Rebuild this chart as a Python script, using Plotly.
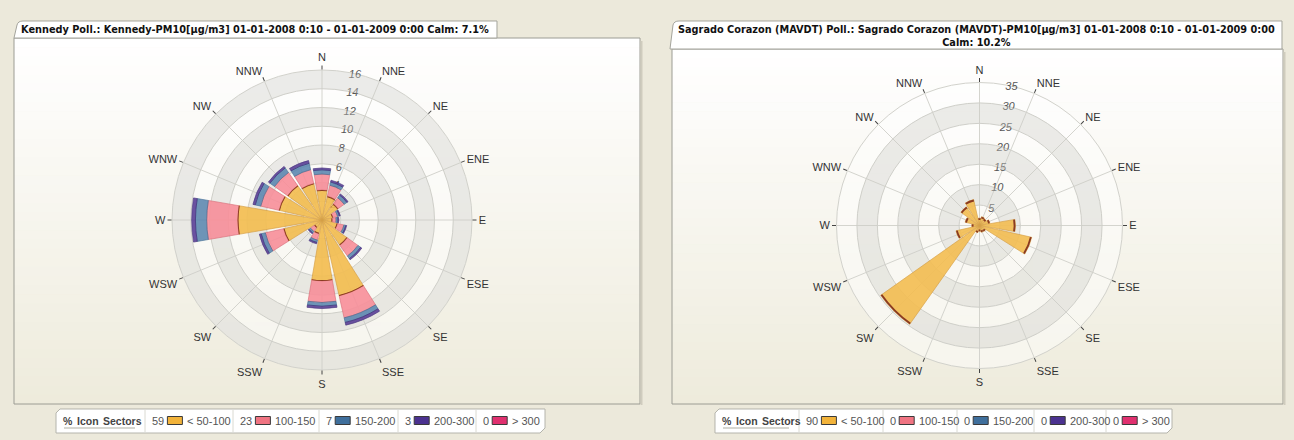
import plotly.graph_objects as go

W, H = 1294, 440

# ---- data -------------------------------------------------------------
directions = ["N", "NNE", "NE", "ENE", "E", "ESE", "SE", "SSE",
              "S", "SSW", "SW", "WSW", "W", "WNW", "NW", "NNW"]
classes = ["< 50-100", "100-150", "150-200", "200-300", "> 300"]

# Kennedy: % of hours per wind sector and PM10 class
kennedy_50_100 = [3.2, 2.6, 2.1, 1.2, 1.1, 1.7, 3.3, 8.3, 6.5, 1.5, 1.0, 4.2, 9.0, 4.7, 4.5, 4.0]
kennedy_100_150 = [1.7, 1.2, 0.8, 0.5, 0.4, 0.7, 1.4, 2.4, 2.3, 0.7, 0.5, 2.0, 3.3, 2.0, 1.7, 1.5]
kennedy_150_200 = [0.45, 0.35, 0.35, 0.2, 0.2, 0.2, 0.35, 0.5, 0.4, 0.25, 0.2, 0.45, 1.2, 0.6, 0.6, 0.7]
kennedy_200_300 = [0.2, 0.2, 0.15, 0.1, 0.1, 0.1, 0.15, 0.3, 0.25, 0.15, 0.1, 0.2, 0.4, 0.25, 0.2, 0.3]
kennedy_over_300 = [0.0] * 16
kennedy_calm = 7.1

# Sagrado Corazon (MAVDT)
sagrado_50_100 = [1.8, 2.2, 2.0, 2.6, 8.8, 13.1, 1.8, 1.7, 1.4, 1.8, 29.6, 5.9, 1.9, 3.6, 5.6, 6.5]
sagrado_100_150 = [0.0] * 16
sagrado_150_200 = [0.0] * 16
sagrado_200_300 = [0.0] * 16
sagrado_over_300 = [0.0] * 16
sagrado_calm = 10.2

kennedy_ticks = [2, 4, 6, 8, 10, 12, 14, 16]
sagrado_ticks = [5, 10, 15, 20, 25, 30, 35]

kennedy_title = "Kennedy Poll.: Kennedy-PM10[µg/m3] 01-01-2008 0:10 - 01-01-2009 0:00 Calm: "
sagrado_title = "Sagrado Corazon (MAVDT) Poll.: Sagrado Corazon (MAVDT)-PM10[µg/m3] 01-01-2008 0:10 - 01-01-2009 0:00"

# ---- style ------------------------------------------------------------
theta = [i * 22.5 for i in range(16)]
fills = ["#F3BD52", "#F88E9A", "#5F89B1", "#5A3F97", "#E8427F"]
edges = ["#D49A3A", "#D96874", "#3F6A92", "#3E2877", "#B52560"]
icon_fills = ["#F2B33A", "#F07482", "#3F6F9C", "#4B3290", "#E0306F"]
PAGE_BG = "#ECE9DB"
FONT = "Liberation Sans, Arial, sans-serif"
TITLE_FONT = "DejaVu Sans, Verdana, sans-serif"


def fx(x):
    return x / W


def fy(y):
    return 1 - y / H


fig = go.Figure()
shapes = []
annotations = []


def panel(x0, y0, x1, y1):
    # vertical white -> beige gradient built from thin strips
    steps = 40
    top = (255, 255, 255)
    bot = (238, 235, 220)
    for i in range(steps):
        t = i / (steps - 1)
        c = tuple(int(round(top[k] + (bot[k] - top[k]) * t)) for k in range(3))
        ya = y0 + (y1 - y0) * i / steps
        yb = y0 + (y1 - y0) * (i + 1) / steps + 0.6
        shapes.append(dict(type="rect", xref="paper", yref="paper", layer="below",
                           x0=fx(x0), x1=fx(x1), y0=fy(ya), y1=fy(min(yb, y1)),
                           fillcolor="rgb(%d,%d,%d)" % c, line_width=0))
    shapes.append(dict(type="rect", xref="paper", yref="paper", layer="below",
                       x0=fx(x0), x1=fx(x1), y0=fy(y0), y1=fy(y1),
                       fillcolor="rgba(0,0,0,0)", line=dict(color="#9C9C94", width=1)))
    # soft right shadow
    shapes.append(dict(type="line", xref="paper", yref="paper", layer="below",
                       x0=fx(x1 + 1.5), x1=fx(x1 + 1.5), y0=fy(y0 + 3), y1=fy(y1 + 1),
                       line=dict(color="#CFCCBE", width=2)))


def tab(x0, y0, x1, y1):
    path = "M %f,%f L %f,%f Q %f,%f %f,%f L %f,%f L %f,%f Z" % (
        fx(x0), fy(y1), fx(x0 + 3), fy(y0 + 4), fx(x0 + 4), fy(y0), fx(x0 + 9), fy(y0),
        fx(x1), fy(y0), fx(x1), fy(y1))
    shapes.append(dict(type="path", xref="paper", yref="paper", layer="below", path=path,
                       fillcolor="white", line=dict(color="#A4A49C", width=1)))


def text(x, y, s, size=11, color="#555", anchor="left", family=FONT):
    annotations.append(dict(xref="paper", yref="paper", x=fx(x), y=fy(y), xanchor=anchor,
                            yanchor="middle", showarrow=False, text=s,
                            font=dict(family=family, size=size, color=color)))


def draw_legend(x0, seps, x1, shares):
    y0, y1 = 409, 433
    path = "M %f,%f L %f,%f L %f,%f L %f,%f L %f,%f L %f,%f Z" % (
        fx(x0), fy(y1), fx(x0), fy(y0 + 4), fx(x0 + 4), fy(y0), fx(x1), fy(y0),
        fx(x1), fy(y1 - 5), fx(x1 - 5), fy(y1))
    shapes.append(dict(type="path", xref="paper", yref="paper", layer="below", path=path,
                       fillcolor="white", line=dict(color="#B4B4AC", width=1)))
    for s in seps:
        shapes.append(dict(type="line", xref="paper", yref="paper", layer="below",
                           x0=fx(s), x1=fx(s), y0=fy(y0 + 1), y1=fy(y1 - 1),
                           line=dict(color="#DADAD2", width=1)))
    shapes.append(dict(type="line", xref="paper", yref="paper", layer="below",
                       x0=fx(x0 + 8), x1=fx(seps[0] - 10), y0=fy(428), y1=fy(428),
                       line=dict(color="#CACAC2", width=1.5)))
    ym = 420.5
    text(x0 + 5, ym, "<b>%</b>", size=10.5, color="#444")
    text(x0 + 18.5, ym, "<b>Icon</b>", size=10.5, color="#444")
    text(x0 + 45, ym, "<b>Sectors</b>", size=10.5, color="#444")
    for k, s in enumerate(seps):
        val = "%d" % round(shares[k])
        text(s + 5, ym, val)
        ix = s + 5 + 6.2 * len(val) + 5
        shapes.append(dict(type="rect", xref="paper", yref="paper", layer="above",
                           x0=fx(ix), x1=fx(ix + 15), y0=fy(ym + 4), y1=fy(ym - 4),
                           fillcolor=icon_fills[k], line=dict(color="#3A3A3A", width=1)))
        text(ix + 18, ym, classes[k])


def rose(series, polar_id, ticks, cap):
    n = len(theta)
    # alternating ring bands, starting light at the centre
    step = ticks[1] - ticks[0]
    band_base = [t for i, t in enumerate([0] + ticks[:-1]) if i % 2 == 1]
    fig.add_trace(go.Barpolar(r=[step] * len(band_base), base=band_base,
                              theta=[0] * len(band_base), width=[360] * len(band_base),
                              marker=dict(color="rgba(205,205,200,0.38)", line_width=0),
                              subplot=polar_id, showlegend=False, hoverinfo="skip"))
    base = [0.0] * n
    tops = []
    for k, vals in enumerate(series):
        fig.add_trace(go.Barpolar(r=vals, base=base[:], theta=theta, width=[19.5] * n,
                                  name=classes[k], subplot=polar_id, showlegend=False,
                                  opacity=0.9,
                                  marker=dict(color=fills[k], line=dict(color=edges[k], width=0.7))))
        base = [b + v for b, v in zip(base, vals)]
        tops.append(base[:])
    # dark rim on the outer edge of the first class
    first_top = tops[0]
    fig.add_trace(go.Barpolar(r=[cap if v > 0 else 0 for v in series[0]],
                              base=[t - cap for t in first_top], theta=theta,
                              width=[19.5] * n, subplot=polar_id, showlegend=False,
                              hoverinfo="skip",
                              marker=dict(color="#8A3A22", line_width=0)))


kennedy_series = [kennedy_50_100, kennedy_100_150, kennedy_150_200, kennedy_200_300, kennedy_over_300]
sagrado_series = [sagrado_50_100, sagrado_100_150, sagrado_150_200, sagrado_200_300, sagrado_over_300]

rose(kennedy_series, "polar", kennedy_ticks, 0.1)
rose(sagrado_series, "polar2", sagrado_ticks, 0.45)

# panels, tabs, titles
panel(14, 38, 640, 404)
panel(672, 49, 1283, 404)
tab(14, 21, 497, 38)
tab(670, 21, 1282, 49)
text(19, 30, "<b>%s%.1f%%</b>" % (kennedy_title, kennedy_calm), size=9.75, color="#111",
     family=TITLE_FONT)
text(976, 35.5, "<b>%s<br>Calm: %.1f%%</b>" % (sagrado_title, sagrado_calm), size=9.75,
     color="#111", anchor="center", family=TITLE_FONT)

draw_legend(56, [145, 233, 319, 398, 476], 545, [sum(s) for s in kennedy_series])
draw_legend(715, [799, 883, 957, 1034, 1106], 1172, [sum(s) for s in sagrado_series])

RADIAL_ANGLE = 82


def polar_layout(cx, cy, rad, ticks):
    return dict(
        domain=dict(x=[fx(cx - rad), fx(cx + rad)], y=[fy(cy + rad), fy(cy - rad)]),
        bgcolor="rgba(255,255,255,0.45)",
        barmode="overlay",
        angularaxis=dict(direction="clockwise", rotation=90, tickmode="array",
                         tickvals=theta, ticktext=directions, ticks="outside", ticklen=4,
                         tickcolor="#444", showline=True, linecolor="#D2D2CC", linewidth=1,
                         gridcolor="#D4D4CE", layer="below traces",
                         tickfont=dict(family=FONT, size=11, color="#333")),
        radialaxis=dict(range=[0, ticks[-1]], tickmode="array", tickvals=ticks,
                        angle=RADIAL_ANGLE, showline=False, ticks="", gridcolor="#D0D0CA",
                        layer="below traces", side="clockwise", tickangle=RADIAL_ANGLE,
                        tickfont=dict(family=FONT, size=11, color="#555", style="italic")),
    )


fig.update_layout(
    width=W, height=H, margin=dict(l=0, r=0, t=0, b=0),
    paper_bgcolor=PAGE_BG, plot_bgcolor=PAGE_BG, showlegend=False,
    polar=polar_layout(322, 220, 150, kennedy_ticks),
    polar2=polar_layout(979.5, 225.5, 143, sagrado_ticks),
    shapes=shapes, annotations=annotations,
)

fig.write_html("out.html")
